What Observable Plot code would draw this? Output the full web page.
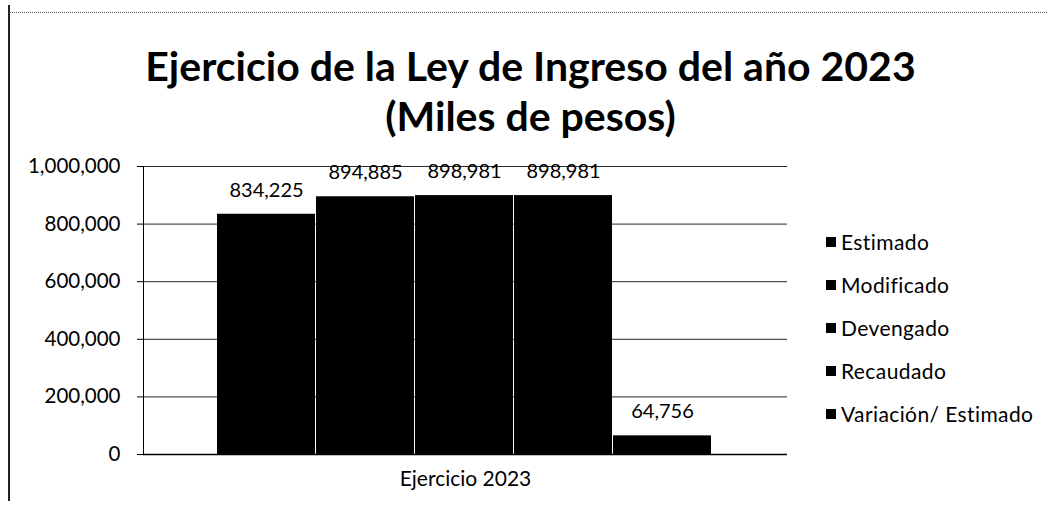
<!DOCTYPE html>
<html>
<head>
<meta charset="utf-8">
<script src="https://cdn.jsdelivr.net/npm/d3@7"></script>
<script src="https://cdn.jsdelivr.net/npm/@observablehq/plot@0.6"></script>
<style>
  html, body { margin: 0; padding: 0; background: #fff; }
  #wrap { position: relative; width: 1047px; height: 508px; overflow: hidden; font-family: Lato, "Noto Sans", sans-serif; color: #000; }
  #title { height: 150px; text-align: center; font-weight: bold; font-size: 41px; line-height: 50px; box-sizing: border-box; padding-top: 41px; padding-left: 14px; }
  #border-left { position: absolute; left: 8px; top: 5px; width: 2px; height: 496px; background: #222; }
  #border-top { position: absolute; left: 9px; top: 12px; width: 1038px; height: 0; border-top: 1px dotted #555; }
  #legend { position: absolute; left: 826px; top: 220px; font-size: 21px; letter-spacing: 0.4px; }
  #legend .item { height: 43px; display: flex; align-items: center; white-space: nowrap; }
  #legend .sw { width: 10px; height: 10px; background: #000; margin-right: 5px; display: inline-block; }
  svg { display: block; }
</style>
</head>
<body>
<div id="wrap">
  <div id="border-left"></div>
  <div id="border-top"></div>
  <div id="title"><div>Ejercicio de la Ley de Ingreso del año 2023</div><div>(Miles de pesos)</div></div>
  <div id="chart"></div>
  <div id="legend"></div>
</div>
<script>
const series = ["Estimado", "Modificado", "Devengado", "Recaudado", "Variación/ Estimado"];
const values = [834225, 894885, 898981, 898981, 64756];
const colors = ["#000000", "#000000", "#000000", "#000000", "#000000"];
const yTicks = [0, 200000, 400000, 600000, 800000, 1000000];
const category = "Ejercicio 2023";

const data = series.map((s, i) => ({serie: s, valor: values[i]}));
const fmt = d3.format(",");

const chart = Plot.plot({
  width: 1047,
  height: 358,
  marginLeft: 143,
  marginRight: 260,
  marginTop: 16,
  marginBottom: 54,
  style: {fontFamily: "Lato, 'Noto Sans', sans-serif", fontSize: "20px", color: "#000", background: "#fff"},
  x: {domain: series, paddingInner: 0.01, paddingOuter: 0, insetLeft: 73, insetRight: 74, axis: null},
  y: {domain: [0, 1000000], axis: null},
  color: {domain: series, range: colors},
  marks: [
    Plot.gridY(yTicks, {stroke: "#000", strokeOpacity: 0.85, strokeWidth: 1}),
    Plot.barY(data, {x: "serie", y: "valor", fill: "serie"}),
    Plot.text(data, {x: "serie", y: "valor", text: d => fmt(d.valor), dy: -24, fontSize: 20, fill: "#000"}),
    Plot.axisY(yTicks, {tickFormat: fmt, tickSize: 6, tickPadding: 17, fontSize: 20.5, label: null, stroke: "#000"}),
    Plot.frame({anchor: "left", stroke: "#000"}),
    Plot.ruleY([0], {stroke: "#000", strokeWidth: 1.5}),
    Plot.text([category], {frameAnchor: "bottom", dy: 31, fontSize: 21, fill: "#000"})
  ]
});
document.getElementById("chart").appendChild(chart);

const legend = document.getElementById("legend");
series.forEach((s, i) => {
  const item = document.createElement("div");
  item.className = "item";
  const sw = document.createElement("span");
  sw.className = "sw";
  sw.style.background = colors[i];
  item.appendChild(sw);
  item.appendChild(document.createTextNode(s));
  legend.appendChild(item);
});
</script>
</body>
</html>
